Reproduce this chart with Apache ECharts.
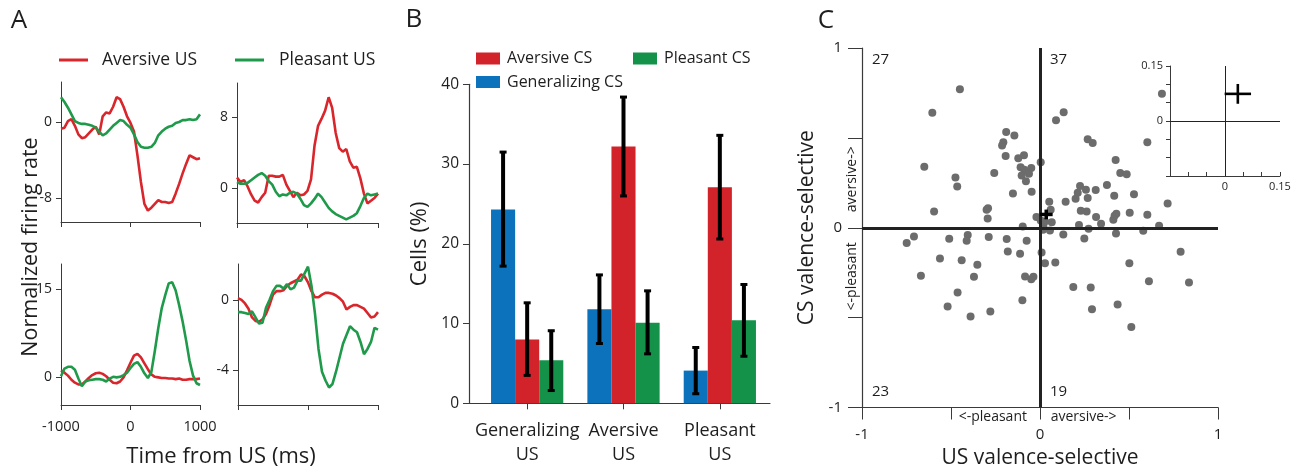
<!DOCTYPE html>
<html>
<head>
<meta charset="utf-8">
<title>Valence-selective cells</title>
<script src="https://cdn.jsdelivr.net/npm/echarts@6/dist/echarts.min.js"></script>
<style>
html, body { margin: 0; padding: 0; background: #fff; }
#main { width: 1298px; height: 471px; }
</style>
</head>
<body>
<div id="main"></div>
<script>
var FONT = "'Open Sans', 'Noto Sans', sans-serif";

// ---- panel A: example cells (normalized firing rate vs time from US) ----
var timeMs = [-1000,-950,-900,-850,-800,-750,-700,-650,-600,-550,-500,-450,-400,-350,-300,-250,-200,-150,-100,-50,
  0,50,100,150,200,250,300,350,400,450,500,550,600,650,700,750,800,850,900,950,1000];

var a1Aversive = [-0.7,-0.6,0.1,0.3,-0.4,-1.3,-1.7,-1.6,-1.2,-0.8,-0.5,-1.3,0.6,1.0,0.9,1.6,2.6,2.4,1.6,0.6,
  -0.1,-1.0,-3.5,-6.3,-8.6,-9.3,-9.0,-8.6,-8.2,-8.4,-8.4,-8.5,-8.4,-7.5,-6.5,-5.4,-4.4,-3.5,-3.7,-3.9,-3.8];
var a1Pleasant = [2.6,2.1,1.5,0.8,0.1,-0.1,-0.2,-0.2,-0.3,-0.4,-0.6,-1.0,-1.4,-1.2,-0.8,-0.4,-0.1,0.2,0.1,-0.3,
  -0.6,-1.3,-2.1,-2.6,-2.7,-2.7,-2.6,-2.2,-1.4,-1.0,-0.7,-0.5,-0.4,-0.1,0.0,0.2,0.2,0.3,0.2,0.3,0.8];

var a2Aversive = [1.2,0.7,0.9,0.2,-0.7,-1.4,-1.6,-1.0,-0.5,1.4,1.4,1.3,1.3,1.5,0.4,-0.3,-1.0,-0.5,-0.8,-0.7,
  -0.3,1.0,4.8,7.0,7.8,8.7,10.2,9.0,6.2,4.5,4.1,4.4,3.0,2.3,2.4,1.1,-0.6,-1.7,-1.4,-1.1,-0.6];
var a2Pleasant = [0.7,0.5,0.5,0.6,0.9,1.2,1.5,1.7,1.4,0.8,0.4,-0.4,-0.9,-0.7,-0.8,-0.5,-0.4,-0.6,-1.2,-1.9,
  -2.1,-1.7,-1.2,-0.6,-1.0,-1.6,-2.2,-2.6,-2.9,-3.1,-3.3,-3.5,-3.3,-3.1,-2.8,-2.0,-1.1,-0.6,-0.8,-0.7,-0.6];

var a3Aversive = [1.2,0.8,0.3,-0.4,-0.9,-1.2,-1.2,-0.7,-0.1,0.4,0.7,0.8,0.6,0.2,-0.4,-0.9,-1.0,-0.7,0.0,1.2,
  2.5,3.7,4.0,3.4,2.4,1.4,0.5,0.1,0.0,-0.1,-0.1,-0.2,-0.2,-0.3,-0.2,-0.4,-0.4,-0.3,-0.3,-0.3,-0.2];
var a3Pleasant = [0.2,1.5,1.8,1.8,1.3,-0.2,-1.5,-0.7,-0.5,-0.4,-0.3,-0.3,-0.4,-0.7,-0.2,0.1,0.0,0.1,0.4,0.8,
  1.6,2.3,2.6,1.8,0.7,-0.1,0.9,4.5,8.4,11.8,14.0,16.0,16.2,14.8,12.3,9.5,6.3,2.8,0.3,-1.0,-1.3];

var a4Aversive = [0.1,0.0,-0.2,-0.5,-1.0,-1.2,-1.25,-1.1,-0.8,-0.3,0.3,0.5,0.5,0.55,0.8,0.95,1.05,1.15,1.45,1.35,
  1.0,0.5,0.15,0.15,0.3,0.4,0.4,0.35,0.25,0.1,-0.1,-0.55,-0.4,-0.3,-0.3,-0.4,-0.5,-0.75,-1.0,-0.95,-0.7];
var a4Pleasant = [-0.7,-0.7,-0.75,-0.8,-0.65,-1.0,-1.35,-1.3,-0.45,0.0,0.5,0.8,0.8,0.65,0.9,0.6,0.7,1.1,1.1,1.5,
  1.9,0.8,-0.8,-2.8,-4.1,-4.6,-5.0,-4.8,-4.1,-3.3,-2.5,-2.0,-1.5,-1.7,-1.85,-2.4,-3.1,-2.8,-2.4,-1.6,-1.7];

var a1Ticks = [0, -8];
var a2Ticks = [8, 0];
var a3Ticks = [15, 0];
var a4Ticks = [0, -4];

// ---- panel B: percentage of cells ----
var barCategories = ['Generalizing\nUS', 'Aversive\nUS', 'Pleasant\nUS'];
var generalizingCS = [24.3, 11.8, 4.1];
var aversiveCS = [8.0, 32.2, 27.1];
var pleasantCS = [5.4, 10.1, 10.4];
var generalizingErr = [[17.2, 31.5], [7.5, 16.1], [1.2, 7.0]];
var aversiveErr = [[3.5, 12.6], [26.0, 38.4], [20.6, 33.6]];
var pleasantErr = [[1.6, 9.1], [6.2, 14.1], [5.9, 14.9]];

// ---- panel C: US vs CS valence selectivity ----
var cellPoints = [
  // upper left
  [-0.45,0.77],[-0.605,0.64],[-0.65,0.34],[-0.595,0.09],[-0.475,0.28],[-0.465,0.23],[-0.257,0.305],
  [-0.19,0.533],[-0.144,0.513],[-0.206,0.475],[-0.213,0.457],[-0.193,0.399],[-0.122,0.386],[-0.09,0.403],
  [-0.109,0.336],[-0.088,0.323],[-0.049,0.332],[-0.103,0.291],[-0.062,0.301],[-0.079,0.258],[-0.152,0.191],
  [-0.047,0.2],[-0.292,0.108],[-0.3,0.1],[-0.294,0.052],[-0.097,0.007],[-0.02,0.06],
  // upper right
  [0.004,0.364],[0.004,0.041],[0.052,0.145],[0.144,0.144],[0.09,0.598],[0.133,0.643],[0.066,0.03],
  [0.019,0.007],[0.685,0.746],[0.268,0.492],[0.296,0.472],[0.603,0.475],[0.425,0.377],[0.451,0.305],
  [0.487,0.297],[0.376,0.238],[0.225,0.232],[0.258,0.212],[0.313,0.21],[0.212,0.195],[0.2,0.162],
  [0.268,0.165],[0.417,0.178],[0.528,0.186],[0.717,0.135],[0.229,0.095],[0.262,0.091],[0.315,0.06],
  [0.343,0.022],[0.419,0.067],[0.429,0.078],[0.504,0.084],[0.603,0.072],[0.219,0.015],[0.669,0.011],
  [0.412,0.045],[0.028,0.035],[0.06,0.1],
  // lower left
  [-0.749,-0.085],[-0.708,-0.048],[-0.51,-0.061],[-0.406,-0.041],[-0.412,-0.072],[-0.288,-0.052],
  [-0.187,-0.063],[-0.075,-0.072],[-0.181,-0.132],[-0.112,-0.145],[-0.562,-0.171],[-0.44,-0.181],
  [-0.352,-0.206],[-0.669,-0.267],[-0.371,-0.273],[-0.084,-0.271],[-0.049,-0.286],[-0.037,-0.273],
  [-0.463,-0.36],[-0.099,-0.403],[-0.519,-0.438],[-0.39,-0.494],[-0.279,-0.466],
  // lower right
  [0.009,-0.137],[0.056,-0.015],[0.131,-0.037],[0.028,-0.197],[0.086,-0.193],[0.273,-0.006],[0.249,-0.06],
  [0.427,-0.032],[0.58,-0.017],[0.187,-0.33],[0.285,-0.332],[0.292,-0.453],[0.436,-0.427],[0.502,-0.197],
  [0.612,-0.297],[0.79,-0.134],[0.837,-0.305],[0.513,-0.552],[0.017,-0.011]
];
var populationMean = [0.035, 0.074];
var populationSem = [0.036, 0.027];
var quadrantCounts = ['27', '37', '23', '19'];
var cTicks = [-1, -0.5, 0, 0.5, 1];
var cTickLabels = [-1, 0, 1];
var insetTicks = [-0.15, -0.1, -0.05, 0, 0.05, 0.1, 0.15];
var insetTickLabels = [0, 0.15];

var RED_A = '#d8262c', GREEN_A = '#1f9a4a';
var BLUE_B = '#0b72bb', RED_B = '#d2222a', GREEN_B = '#14924a';
var AXIS = '#3a3a3a', TXT = '#1e1e1e';

function pairs(xs, ys) {
  var out = [];
  for (var i = 0; i < xs.length; i++) out.push([xs[i], ys[i]]);
  return out;
}
function plain(v) { return String(v); }

function aGrid(l, t, w, h) {
  return { left: l, top: t, width: w, height: h, outerBoundsMode: 'none', containLabel: false };
}
function aX(gi, showLabels) {
  return {
    type: 'value', gridIndex: gi, min: -1000, max: 1000, interval: 1000,
    axisLine: { onZero: false, lineStyle: { color: AXIS, width: 1 } },
    axisTick: { show: true, length: 5, lineStyle: { color: AXIS } },
    axisLabel: { show: showLabels, fontSize: 14.5, color: TXT, margin: 14, fontFamily: FONT, formatter: plain },
    splitLine: { show: false }
  };
}
function aY(gi, min, max, ticks) {
  return {
    type: 'value', gridIndex: gi, min: min, max: max,
    axisLine: { show: true, onZero: false, lineStyle: { color: AXIS, width: 1 } },
    axisTick: { show: true, length: 5, customValues: ticks, lineStyle: { color: AXIS } },
    axisLabel: { customValues: ticks, fontSize: 14, color: TXT, margin: 9, fontFamily: FONT },
    splitLine: { show: false }
  };
}
function aLine(name, gi, vals, color) {
  return {
    name: name, type: 'line', xAxisIndex: gi, yAxisIndex: gi,
    data: pairs(timeMs, vals), showSymbol: false, symbol: 'none',
    lineStyle: { color: color, width: 2.6 }, itemStyle: { color: color },
    silent: true, z: name === 'Pleasant US' ? 3 : 2
  };
}

function errRender(slot) {
  return function (params, api) {
    var cat = api.value(0), lo = api.value(1), hi = api.value(2);
    var bw = api.size([1, 0])[0] * 0.25;
    var pLo = api.coord([cat, lo]), pHi = api.coord([cat, hi]);
    var x = pLo[0] + (slot - 1) * bw;
    return {
      type: 'group', children: [
        { type: 'line', shape: { x1: x, y1: pLo[1], x2: x, y2: pHi[1] }, style: { stroke: '#000', lineWidth: 4 } },
        { type: 'rect', shape: { x: x - 3.5, y: pHi[1] - 1.5, width: 7, height: 3 }, style: { fill: '#000' } },
        { type: 'rect', shape: { x: x - 3.5, y: pLo[1] - 1.5, width: 7, height: 3 }, style: { fill: '#000' } }
      ]
    };
  };
}
function errData(errs) {
  return errs.map(function (e, i) { return [i, e[0], e[1]]; });
}

function crossRender(lw) {
  return function (params, api) {
    var cx = api.value(0), cy = api.value(1), sx = api.value(2), sy = api.value(3);
    var l = api.coord([cx - sx, cy]), r = api.coord([cx + sx, cy]);
    var t = api.coord([cx, cy + sy]), b = api.coord([cx, cy - sy]);
    return {
      type: 'group', children: [
        { type: 'line', shape: { x1: l[0], y1: l[1], x2: r[0], y2: r[1] }, style: { stroke: '#000', lineWidth: lw } },
        { type: 'line', shape: { x1: t[0], y1: t[1], x2: b[0], y2: b[1] }, style: { stroke: '#000', lineWidth: lw } }
      ]
    };
  };
}
var crossData = [[populationMean[0], populationMean[1], populationSem[0], populationSem[1]]];

function legendItem(name, left, top, w, h, pad, size) {
  return {
    data: [name], left: left, top: top, padding: 0, selectedMode: false,
    icon: 'rect', itemWidth: w, itemHeight: h,
    textStyle: { fontSize: size, color: TXT, fontFamily: FONT, padding: [0, 0, 0, pad], lineHeight: 20 }
  };
}

function label(text, x, y, size, rot) {
  return {
    type: 'text', x: x, y: y, rotation: rot || 0, silent: true,
    style: {
      text: text, fill: TXT, font: size + 'px ' + FONT,
      align: 'center', verticalAlign: 'middle', textAlign: 'center', textVerticalAlign: 'middle'
    }
  };
}
function countLabel(text, x, y) {
  return {
    type: 'text', x: x, y: y, silent: true,
    style: { text: text, fill: TXT, font: '15px ' + FONT, align: 'left', verticalAlign: 'middle',
      textAlign: 'left', textVerticalAlign: 'middle' }
  };
}

var chart = echarts.init(document.getElementById('main'));

var option = {
  backgroundColor: '#fff',
  animation: false,
  textStyle: { fontFamily: FONT },
  grid: [
    aGrid(61, 82, 139, 140),
    aGrid(237, 83, 141, 140),
    aGrid(61, 264, 139, 141),
    aGrid(238, 264, 140, 141),
    aGrid(479, 84.3, 289, 319),
    aGrid(468, 84.3, 302, 319),
    aGrid(862, 48, 356, 359.5),
    aGrid(1170, 66, 110, 110)
  ],
  xAxis: [
    aX(0, false), aX(1, false), aX(2, true), aX(3, false),
    {
      type: 'category', gridIndex: 4, data: barCategories,
      axisLine: { show: false },
      axisTick: { show: true, alignWithLabel: true, length: 6, lineStyle: { color: AXIS } },
      axisLabel: { fontSize: 18, color: TXT, lineHeight: 24, margin: 16, fontFamily: FONT, interval: 0 }
    },
    {
      type: 'value', gridIndex: 5, min: 0, max: 1,
      axisLine: { show: true, onZero: false, lineStyle: { color: AXIS, width: 1.2 } },
      axisTick: { show: false }, axisLabel: { show: false }, splitLine: { show: false }
    },
    {
      type: 'value', gridIndex: 6, min: -1, max: 1,
      axisLine: { show: true, onZero: false, lineStyle: { color: AXIS, width: 1.2 } },
      axisTick: { show: true, customValues: cTicks, length: 12, lineStyle: { color: AXIS } },
      axisLabel: { customValues: cTickLabels, fontSize: 15, color: TXT, margin: 20, fontFamily: FONT },
      splitLine: { show: false },
      name: 'US valence-selective', nameLocation: 'middle', nameGap: 40,
      nameTextStyle: { fontSize: 21, color: TXT, fontFamily: FONT }
    },
    {
      type: 'value', gridIndex: 6, min: -1, max: 1, position: 'bottom',
      axisLine: { show: false, onZero: false }, axisTick: { show: false }, splitLine: { show: false },
      axisLabel: {
        customValues: [-0.265, 0.245], fontSize: 14, color: TXT, margin: 3, fontFamily: FONT,
        formatter: function (v) { return v < 0 ? '<-pleasant' : 'aversive->'; }
      }
    },
    {
      type: 'value', gridIndex: 7, min: -0.15, max: 0.15,
      axisLine: { show: true, onZero: false, lineStyle: { color: AXIS, width: 1 } },
      axisTick: { show: true, inside: true, customValues: insetTicks, length: 4, lineStyle: { color: AXIS } },
      axisLabel: { customValues: insetTickLabels, fontSize: 11, color: TXT, margin: 5, fontFamily: FONT },
      splitLine: { show: false }
    }
  ],
  yAxis: [
    aY(0, -10.5, 4.2, a1Ticks),
    aY(1, -3.9, 11.8, a2Ticks),
    aY(2, -4.7, 19.3, a3Ticks),
    aY(3, -6, 2.05, a4Ticks),
    {
      type: 'value', gridIndex: 4, min: 0, max: 40, interval: 10, offset: 10,
      axisLine: { show: true, onZero: false, lineStyle: { color: AXIS, width: 1.2 } },
      axisTick: { show: true, length: 6, lineStyle: { color: AXIS } },
      axisLabel: { fontSize: 15.5, color: TXT, margin: 10, fontFamily: FONT },
      splitLine: { show: false },
      name: 'Cells (%)', nameLocation: 'middle', nameGap: 38,
      nameTextStyle: { fontSize: 22, color: TXT, fontFamily: FONT }
    },
    { type: 'value', gridIndex: 5, min: 0, max: 1, show: false },
    {
      type: 'value', gridIndex: 6, min: -1, max: 1,
      axisLine: { show: true, onZero: false, lineStyle: { color: AXIS, width: 1.2 } },
      axisTick: { show: true, customValues: cTicks, length: 14, lineStyle: { color: AXIS } },
      axisLabel: { customValues: cTickLabels, fontSize: 15, color: TXT, margin: 20, fontFamily: FONT },
      splitLine: { show: false },
      name: 'CS valence-selective', nameLocation: 'middle', nameGap: 44,
      nameTextStyle: { fontSize: 21, color: TXT, fontFamily: FONT }
    },
    {
      type: 'value', gridIndex: 6, min: -1, max: 1, position: 'left',
      axisLine: { show: false, onZero: false }, axisTick: { show: false }, splitLine: { show: false },
      axisLabel: {
        customValues: [-0.27, 0.27], fontSize: 14, color: TXT, margin: 3, rotate: 90, fontFamily: FONT,
        formatter: function (v) { return v < 0 ? '<-pleasant' : 'aversive->'; }
      }
    },
    {
      type: 'value', gridIndex: 7, min: -0.15, max: 0.15,
      axisLine: { show: true, onZero: false, lineStyle: { color: AXIS, width: 1 } },
      axisTick: { show: true, customValues: insetTicks, length: 4, lineStyle: { color: AXIS } },
      axisLabel: { customValues: insetTickLabels, fontSize: 11, color: TXT, margin: 7, fontFamily: FONT },
      splitLine: { show: false }
    }
  ],
  legend: [
    legendItem('Aversive US', 59, 50, 29, 3, 9, 17.5),
    legendItem('Pleasant US', 235, 50, 29, 3, 10, 17.5),
    legendItem('Aversive CS', 476, 48.5, 24, 12, 2, 16),
    legendItem('Pleasant CS', 633, 48.5, 24, 12, 2, 16),
    legendItem('Generalizing CS', 476, 72, 24, 12, 2, 16)
  ],
  graphic: [
    label('A', 19, 21, 26),
    label('B', 414, 20, 26),
    label('C', 826, 21, 26),
    label('Normalized firing rate', 31, 247, 21.5, Math.PI / 2),
    label('Time from US (ms)', 221, 457, 22),
    countLabel(quadrantCounts[0], 872, 60),
    countLabel(quadrantCounts[1], 1050, 60),
    countLabel(quadrantCounts[2], 872, 392),
    countLabel(quadrantCounts[3], 1050, 392)
  ],
  series: [
    aLine('Aversive US', 0, a1Aversive, RED_A),
    aLine('Pleasant US', 0, a1Pleasant, GREEN_A),
    aLine('Aversive US', 1, a2Aversive, RED_A),
    aLine('Pleasant US', 1, a2Pleasant, GREEN_A),
    aLine('Aversive US', 2, a3Aversive, RED_A),
    aLine('Pleasant US', 2, a3Pleasant, GREEN_A),
    aLine('Aversive US', 3, a4Aversive, RED_A),
    aLine('Pleasant US', 3, a4Pleasant, GREEN_A),
    {
      name: 'Generalizing CS', type: 'bar', xAxisIndex: 4, yAxisIndex: 4, data: generalizingCS,
      barWidth: '25%', barGap: '0%', itemStyle: { color: BLUE_B }, silent: true
    },
    {
      name: 'Aversive CS', type: 'bar', xAxisIndex: 4, yAxisIndex: 4, data: aversiveCS,
      barWidth: '25%', barGap: '0%', itemStyle: { color: RED_B }, silent: true
    },
    {
      name: 'Pleasant CS', type: 'bar', xAxisIndex: 4, yAxisIndex: 4, data: pleasantCS,
      barWidth: '25%', barGap: '0%', itemStyle: { color: GREEN_B }, silent: true
    },
    { type: 'custom', xAxisIndex: 4, yAxisIndex: 4, renderItem: errRender(0), data: errData(generalizingErr), encode: { x: 0, y: [1, 2] }, z: 5, silent: true },
    { type: 'custom', xAxisIndex: 4, yAxisIndex: 4, renderItem: errRender(1), data: errData(aversiveErr), encode: { x: 0, y: [1, 2] }, z: 5, silent: true },
    { type: 'custom', xAxisIndex: 4, yAxisIndex: 4, renderItem: errRender(2), data: errData(pleasantErr), encode: { x: 0, y: [1, 2] }, z: 5, silent: true },
    {
      type: 'scatter', xAxisIndex: 6, yAxisIndex: 6, data: cellPoints, symbolSize: 8,
      itemStyle: { color: '#6c6c6c', opacity: 1 }, silent: true, z: 2,
      markLine: {
        silent: true, symbol: ['none', 'none'], label: { show: false },
        lineStyle: { color: '#222', width: 3, type: 'solid' },
        data: [{ xAxis: 0 }, { yAxis: 0 }]
      }
    },
    { type: 'custom', xAxisIndex: 6, yAxisIndex: 6, renderItem: crossRender(3.5), data: crossData, encode: { x: 0, y: 1 }, z: 6, silent: true },
    {
      type: 'scatter', xAxisIndex: 8, yAxisIndex: 8, data: [populationMean], symbolSize: 0, silent: true,
      markLine: {
        silent: true, symbol: ['none', 'none'], label: { show: false },
        lineStyle: { color: '#222', width: 1, type: 'solid' },
        data: [{ xAxis: 0 }, { yAxis: 0 }]
      }
    },
    { type: 'custom', xAxisIndex: 8, yAxisIndex: 8, renderItem: crossRender(2.6), data: crossData, encode: { x: 0, y: 1 }, z: 6, silent: true }
  ]
};

chart.setOption(option);
</script>
</body>
</html>
